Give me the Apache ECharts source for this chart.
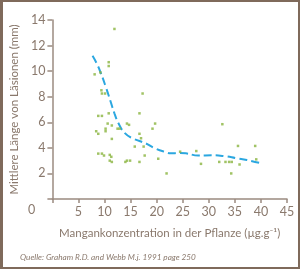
<!DOCTYPE html>
<html>
<head>
<meta charset="utf-8">
<script src="https://cdn.jsdelivr.net/npm/echarts@6/dist/echarts.min.js"></script>
<style>
  html, body { margin: 0; padding: 0; background: #fff; }
  #wrap { position: relative; width: 300px; height: 269px; }
  #chart { position: absolute; left: 0; top: 0; width: 300px; height: 269px; }
  #frame { position: absolute; left: 0; top: 0; width: 300px; height: 269px; box-sizing: border-box; border: 2px solid #7f6a5b; border-left-width: 3px; pointer-events: none; }
</style>
</head>
<body>
<div id="wrap">
  <div id="chart"></div>
  <div id="frame"></div>
</div>
<script>
// Messpunkte (Mn-Konzentration, Läsionslänge)
const mnX = [11.9, 10.8, 10.8, 8.1, 9.2, 9.4, 9.5, 10.1, 17.3, 8.8, 9.5, 10.8, 16.7, 10.6, 11.4,
  8.4, 8.8, 10.2, 10.2, 12.5, 12.9, 14.3, 14.7, 16.7, 19.7, 19.2, 11.4, 15.8, 17.5, 17.0,
  8.8, 9.5, 9.9, 11.0, 11.3, 11.0, 11.4, 14.0, 14.3, 14.9, 16.7, 17.7, 20.3, 21.9, 24.5,
  27.6, 28.5, 32.0, 33.2, 33.9, 34.4, 34.3, 35.6, 38.9, 35.9, 39.1, 32.6]
const laesion = [13.3, 10.7, 10.4, 9.75, 9.9, 8.5, 8.25, 8.25, 8.25, 6.5, 6.5, 6.7, 6.7, 5.9, 5.75,
  5.3, 5.1, 5.5, 5.3, 5.5, 5.5, 5.9, 5.8, 5.1, 5.9, 5.5, 4.7, 4.1, 4.1, 4.75,
  3.55, 3.55, 3.4, 3.45, 3.3, 3.0, 2.9, 2.9, 3.0, 3.0, 2.9, 3.4, 3.15, 2.0, 3.7,
  3.75, 2.75, 2.9, 2.9, 2.9, 2.9, 2.0, 4.15, 4.15, 2.7, 3.1, 5.85]

// Trendkurve (gestrichelt)
const trendX = [7.7, 8.5, 9.2, 10.3, 11.1, 11.9, 12.7, 13.9, 15.4, 17.9, 19.7, 21.6, 22.8, 24.3, 25.6, 28.0, 30.5, 33.0, 35.4, 37.3, 40.0]
const trendY = [11.2, 10.6, 9.95, 8.7, 7.7, 6.7, 5.9, 5.15, 4.74, 4.35, 3.96, 3.68, 3.57, 3.6, 3.57, 3.4, 3.42, 3.35, 3.18, 3.05, 2.8]

const xTicks = [0, 5, 10, 15, 20, 25, 30, 35, 40, 45]
const yTicks = [0, 2, 4, 6, 8, 10, 12, 14]

const textColor = '#8a796d'
const lineColor = '#9b8b80'
const fontFamily = 'Lato, "Open Sans", sans-serif'

const chart = echarts.init(document.getElementById('chart'))

const option = {
  animation: false,
  grid: { left: 43, right: 13, top: 20, bottom: 70 },
  xAxis: {
    type: 'value',
    min: xTicks[0],
    max: xTicks[xTicks.length - 1],
    interval: 5,
    name: 'Mangankonzentration in der Pflanze (µg.g⁻¹)',
    nameLocation: 'middle',
    nameGap: 28,
    nameTextStyle: { color: textColor, fontSize: 11.5, fontFamily: fontFamily },
    splitLine: { show: false },
    axisLine: { lineStyle: { color: lineColor, width: 1.5 } },
    axisTick: { length: 4, lineStyle: { color: lineColor, width: 1.5 } },
    axisLabel: {
      color: textColor,
      fontSize: 12.5,
      fontFamily: fontFamily,
      margin: 6,
      formatter: function (v) { return v === 0 ? '' : String(v) }
    }
  },
  yAxis: {
    type: 'value',
    min: yTicks[0],
    max: yTicks[yTicks.length - 1],
    interval: 2,
    name: 'Mittlere Länge von Läsionen (mm)',
    nameLocation: 'middle',
    nameGap: 24,
    nameRotate: 90,
    nameTextStyle: { color: textColor, fontSize: 11.5, fontFamily: fontFamily },
    splitLine: { show: false },
    axisLine: { show: true, lineStyle: { color: lineColor, width: 1.5 } },
    axisTick: { show: true, length: 5, lineStyle: { color: lineColor, width: 1.5 } },
    axisLabel: {
      color: textColor,
      fontSize: 12.5,
      fontFamily: fontFamily,
      margin: 7,
      formatter: function (v) { return v === 0 ? '' : String(v) }
    }
  },
  graphic: [
    {
      type: 'text',
      left: 28,
      top: 203,
      style: { text: '0', fill: textColor, font: '12.5px ' + fontFamily }
    },
    {
      type: 'text',
      left: 20,
      top: 253,
      style: { text: 'Quelle: Graham R.D. and Webb M.j. 1991 page 250', fill: textColor, font: 'italic 8.2px ' + fontFamily }
    }
  ],
  series: [
    {
      type: 'scatter',
      symbol: 'rect',
      symbolSize: 2.5,
      itemStyle: { color: '#8ab43e' },
      data: mnX.map((x, i) => [x, laesion[i]]),
      z: 3
    },
    {
      type: 'line',
      smooth: true,
      showSymbol: false,
      lineStyle: { color: '#2ba7e0', width: 2, type: [8, 4] },
      data: trendX.map((x, i) => [x, trendY[i]]),
      z: 2
    }
  ]
}

chart.setOption(option)
</script>
</body>
</html>
